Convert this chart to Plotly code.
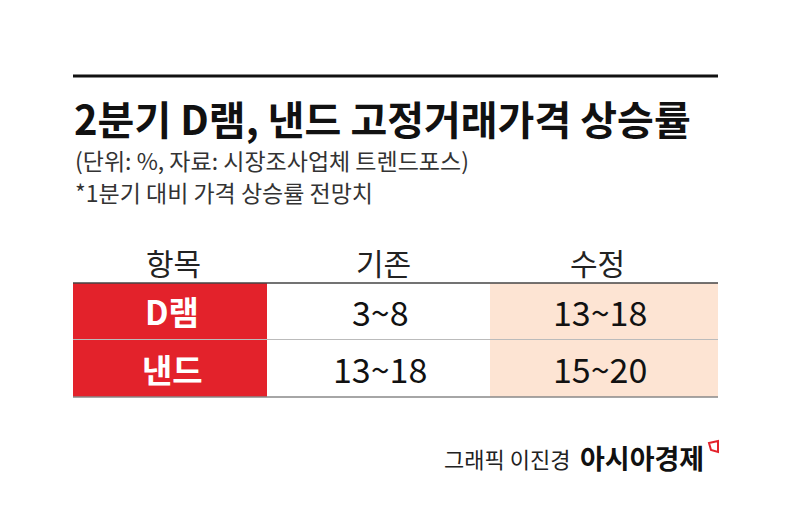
import plotly.graph_objects as go

title = "2분기 D램, 낸드 고정거래가격 상승률"
subtitle1 = "(단위: %, 자료: 시장조사업체 트렌드포스)"
subtitle2 = "*1분기 대비 가격 상승률 전망치"
headers = ["항목", "기존", "수정"]
items = ["D램", "낸드"]
existing = ["3~8", "13~18"]
revised = ["13~18", "15~20"]

F = "Noto Sans CJK KR"
O = 8  # page offset
fig = go.Figure()
fig.update_layout(width=788, height=522, margin=dict(l=0, r=0, t=0, b=0),
                  plot_bgcolor="white", paper_bgcolor="white", showlegend=False)
fig.update_xaxes(range=[O, 788+O], visible=False, fixedrange=True)
fig.update_yaxes(range=[522+O, O], visible=False, fixedrange=True)

shapes = []
ann = []
shapes.append(dict(type="line", x0=73, x1=718, y0=76, y1=76, line=dict(color="#111", width=3)))
ann.append(dict(x=72, y=118, text="<b>"+title+"</b>", xanchor="left", yanchor="middle", showarrow=False,
                font=dict(family=F, size=40, color="#111")))
ann.append(dict(x=73, y=160, text=subtitle1, xanchor="left", yanchor="middle", showarrow=False,
                font=dict(family=F, size=23, color="#333")))
ann.append(dict(x=73, y=192, text=subtitle2, xanchor="left", yanchor="middle", showarrow=False,
                font=dict(family=F, size=23, color="#333")))

cols = [(73, 267), (267, 490), (490, 718)]
hx = [173, 383, 597]
for x, h in zip(hx, headers):
    ann.append(dict(x=x, y=262, text=h, showarrow=False, yanchor="middle",
                    font=dict(family=F, size=30, color="#222")))
rows = [(283, 339), (340, 397)]
for i, (t, bt) in enumerate(rows):
    shapes.append(dict(type="rect", x0=73, x1=267, y0=t, y1=bt, fillcolor="#e3222b", line=dict(width=0), layer="below"))
    shapes.append(dict(type="rect", x0=490, x1=718, y0=t, y1=bt, fillcolor="#fde4d3", line=dict(width=0), layer="below"))
    yc = (t+bt)/2
    ann.append(dict(x=172, y=yc, text="<b>"+items[i]+"</b>", showarrow=False, font=dict(family=F, size=33, color="white")))
    ann.append(dict(x=380, y=yc, text=existing[i], showarrow=False, font=dict(family=F, size=34, color="#111")))
    ann.append(dict(x=600, y=yc, text=revised[i], showarrow=False, font=dict(family=F, size=34, color="#111")))
shapes.append(dict(type="line", x0=73, x1=718, y0=283, y1=283, line=dict(color="#444", width=1.5)))
shapes.append(dict(type="line", x0=73, x1=718, y0=339.5, y1=339.5, line=dict(color="#bbb", width=1)))
shapes.append(dict(type="line", x0=73, x1=718, y0=397, y1=397, line=dict(color="#888", width=1.5)))

ann.append(dict(x=572, y=458, text="그래픽 이진경", xanchor="right", showarrow=False,
                font=dict(family=F, size=22, color="#222")))
ann.append(dict(x=578, y=457, text="<b>아시아경제</b>", xanchor="left", showarrow=False,
                font=dict(family=F, size=27, color="#111")))
shapes.append(dict(type="path", path="M 709 443 L 718 441 L 718 452 L 711 450 Z",
                   line=dict(color="#e3222b", width=2), fillcolor="white"))

fig.update_layout(shapes=shapes, annotations=ann)
fig.write_html("out.html")
